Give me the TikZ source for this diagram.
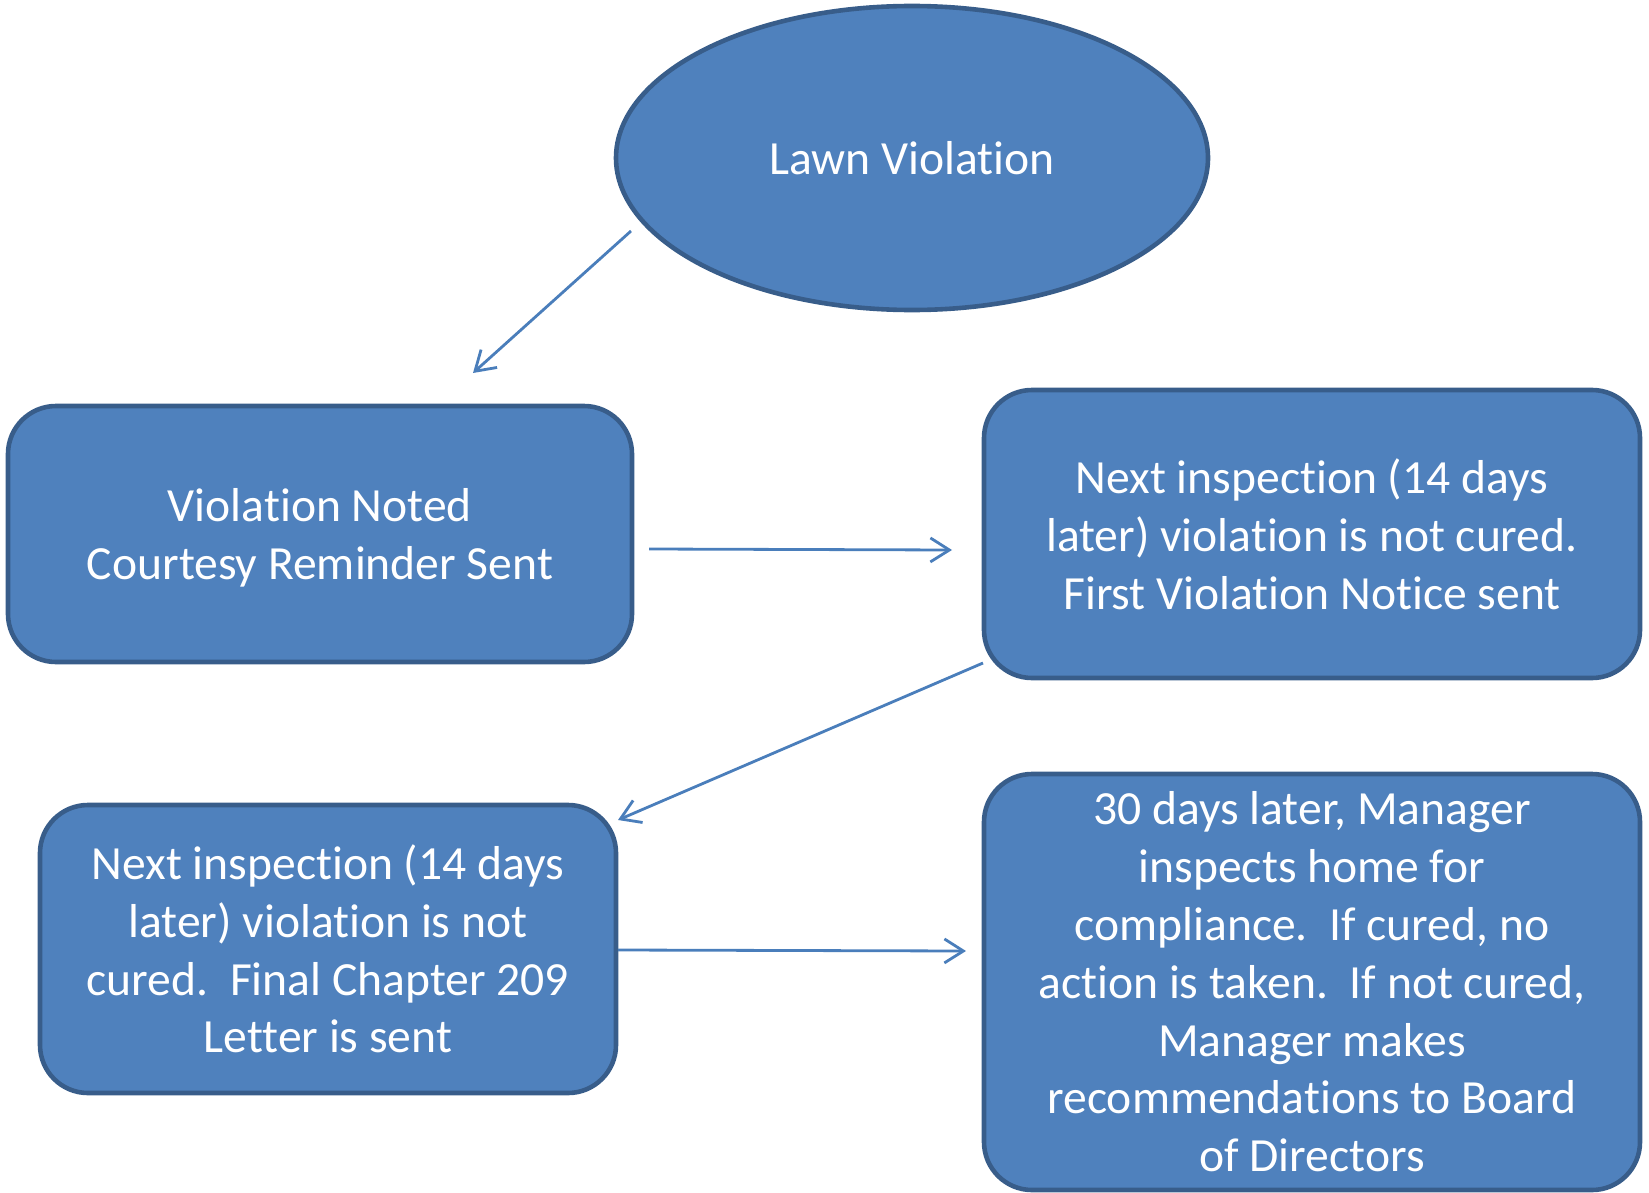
\documentclass[tikz,border=0pt]{standalone}
\usepackage{fontspec}
\setmainfont[Ligatures={NoCommon,NoRequired},Contextuals=NoAlternate]{Carlito}
\usetikzlibrary{arrows.meta,shapes.geometric}
\definecolor{boxfill}{HTML}{4F81BD}
\definecolor{boxline}{HTML}{385D8A}
\definecolor{arrowcol}{HTML}{4A7EBB}
\tikzset{
  stage/.style={draw=boxline, fill=boxfill, line width=2.3pt, rounded corners=24pt,
    text=white, align=center, inner sep=0pt, font=\fontsize{23.8}{28.9}\selectfont},
  oval/.style={stage, ellipse, rounded corners=0pt},
  flow/.style={draw=arrowcol, line width=1.4pt, -{Straight Barb[length=9.5pt,width=12pt,line width=1.4pt]}}
}
\begin{document}
\begin{tikzpicture}[x=0.5pt,y=-0.5pt]
\useasboundingbox (0,0) rectangle (1649,1193);
\node[oval, minimum width=296pt, minimum height=152pt] (lawn) at (912,158) {Lawn Violation};
\node[stage, minimum width=312pt, minimum height=128pt] (noted) at (320,534)
  {\raisebox{-2pt}[\height][\depth]{\parbox{300pt}{\centering Violation Noted\\Courtesy Reminder Sent}}};
\node[stage, minimum width=328pt, minimum height=144pt] (first) at (1312,534)
  {Next inspection (14 days\\later) violation is not cured.\\First Violation Notice sent};
\node[stage, minimum width=288pt, minimum height=144pt] (final) at (328,949)
  {Next inspection (14 days\\later) violation is not\\cured.\ \ Final Chapter 209\\Letter is sent};
\node[stage, minimum width=328pt, minimum height=208pt] (board) at (1312,982)
  {30 days later, Manager\\inspects home for\\compliance.\ \ If cured, no\\action is taken.\ \ If not cured,\\Manager makes\\recommendations to Board\\of Directors};
% free ends of the connectors
\coordinate (a1s) at (631,231);
\coordinate (a1e) at (473,373);
\coordinate (a2s) at (649,549);
\coordinate (a2e) at (952,550);
\coordinate (a3s) at (983,663);
\coordinate (a3e) at (618,820);
\coordinate (a4s) at (618,950);
\coordinate (a4e) at (966,951);
\draw[flow] (a1s) -- (a1e);
\draw[flow] (a2s) -- (a2e);
\draw[flow] (a3s) -- (a3e);
\draw[flow] (a4s) -- (a4e);
\end{tikzpicture}
\end{document}
